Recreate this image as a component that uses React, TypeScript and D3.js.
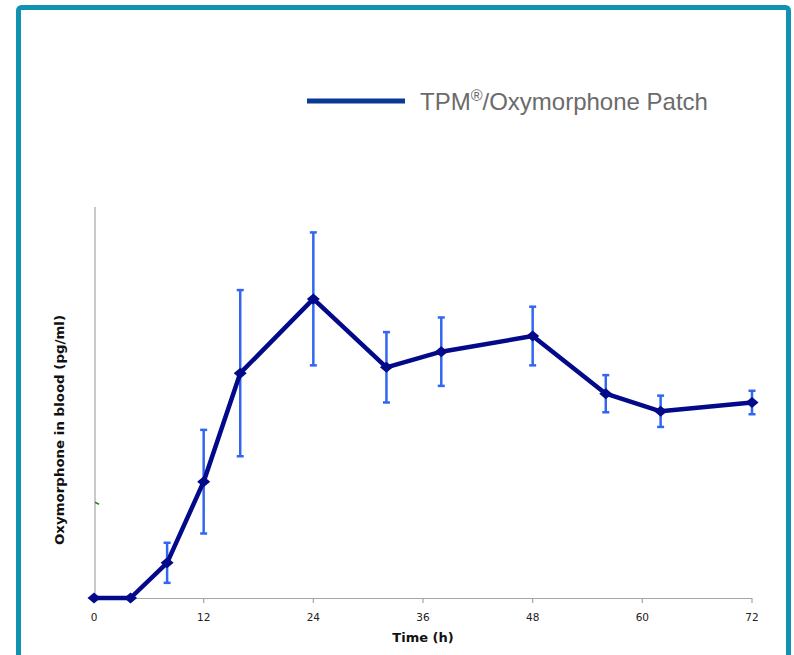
import React from 'react';
import * as d3 from 'd3';

// sampling times (h) and mean oxymorphone concentration (arbitrary pg/ml scale, no y labels shown)
const hours = [0, 4, 8, 12, 16, 24, 32, 38, 48, 56, 62, 72];
const meanConc = [0, 0, 36, 119, 230, 306, 236, 252, 268, 209, 191, 200];
const sdConc = [0, 0, 20.5, 53, 85, 68, 36, 35, 30, 19, 16, 12];
const xTicks = [0, 12, 24, 36, 48, 60, 72];
const seriesName = 'TPM';
const seriesSuffix = '/Oxymorphone Patch';

const W = 794;
const H = 655;
const plot = { left: 94, right: 752, top: 207, bottom: 598 };

const App: React.FC = () => {
  const x = d3.scaleLinear().domain([0, 72]).range([plot.left, plot.right]);
  const y = d3.scaleLinear().domain([0, 400]).range([plot.bottom, plot.top]);

  const pts = hours.map((h, i) => ({ h, v: meanConc[i], sd: sdConc[i] }));

  const line = d3.line<{ h: number; v: number }>()
    .x(d => x(d.h))
    .y(d => y(d.v));

  // squat diamond, a little wider than tall like the original markers
  const diamond = 'M-6.5,0L0,-5.5L6.5,0L0,5.5Z';

  return (
    <svg width={W} height={H} style={{ position: 'absolute', left: 0, top: 0, background: '#fff' }}>
      {/* frame */}
      <rect x={18.5} y={7.5} width={770} height={H} rx={3}
        fill="none" stroke="#1192B2" strokeWidth={5} />

      {/* legend */}
      <line x1={307} x2={405} y1={101} y2={101} stroke="#0A3A96" strokeWidth={5} />
      <text x={420} y={110} fontFamily="'Liberation Sans', Arial, sans-serif" fontSize={24} fill="#6b6b6b">
        {seriesName}
        <tspan fontSize={16} dy={-9}>®</tspan>
        <tspan dy={9}>{seriesSuffix}</tspan>
      </text>

      {/* axes */}
      <line x1={plot.left + 1} x2={plot.left + 1} y1={plot.top} y2={plot.bottom} stroke="#a6a6a6" strokeWidth={1.2} />
      <line x1={plot.left} x2={plot.right} y1={plot.bottom + 0.5} y2={plot.bottom + 0.5} stroke="#a6a6a6" strokeWidth={1.2} />
      {xTicks.map(t => (
        <g key={t}>
          <line x1={x(t)} x2={x(t)} y1={plot.bottom} y2={plot.bottom + 5} stroke="#a6a6a6" strokeWidth={1.2} />
          <text x={x(t)} y={621} textAnchor="middle" fontFamily="'DejaVu Sans', sans-serif" fontSize={10.5} fill="#222">
            {t}
          </text>
        </g>
      ))}
      <text x={423} y={642} textAnchor="middle" fontFamily="'DejaVu Sans', sans-serif" fontWeight="bold" fontSize={13} fill="#111">
        Time (h)
      </text>
      <text transform="translate(64,430) rotate(-90)" textAnchor="middle" fontFamily="'DejaVu Sans', sans-serif"
        fontWeight="bold" fontSize={13} fill="#111" textLength={230} lengthAdjust="spacingAndGlyphs">
        Oxymorphone in blood  (pg/ml)
      </text>

      {/* small green stub on the y axis */}
      <path d={`M${plot.left + 1},${y(98)} l4,2`} stroke="#1a8a1a" strokeWidth={1.5} />

      {/* error bars */}
      {pts.filter(d => d.sd > 0).map(d => (
        <g key={`e${d.h}`} stroke="#3366F0" strokeWidth={2.5}>
          <line x1={x(d.h)} x2={x(d.h)} y1={y(d.v + d.sd)} y2={y(d.v - d.sd)} />
          <line x1={x(d.h) - 3.5} x2={x(d.h) + 3.5} y1={y(d.v + d.sd)} y2={y(d.v + d.sd)} />
          <line x1={x(d.h) - 3.5} x2={x(d.h) + 3.5} y1={y(d.v - d.sd)} y2={y(d.v - d.sd)} />
        </g>
      ))}

      {/* mean line */}
      <path d={line(pts) as string} fill="none" stroke="#020A8A" strokeWidth={4.5} strokeLinejoin="round" />
      {pts.map(d => (
        <path key={`m${d.h}`} d={diamond} transform={`translate(${x(d.h)},${y(d.v)})`} fill="#020A8A" />
      ))}
    </svg>
  );
};

export default App;
